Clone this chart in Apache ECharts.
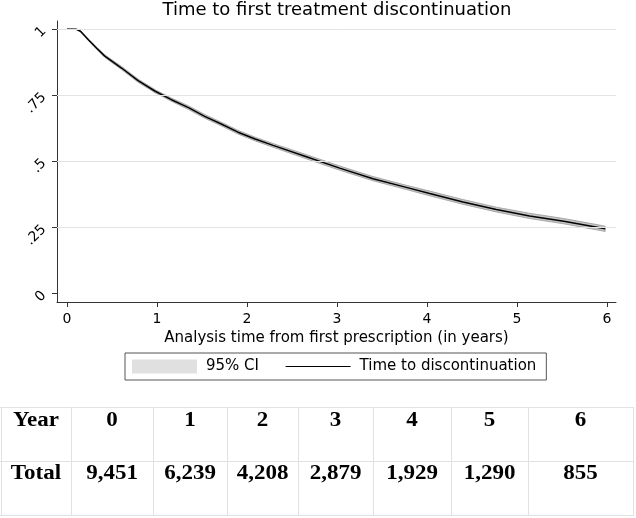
<!DOCTYPE html>
<html>
<head>
<meta charset="utf-8">
<script src="https://cdn.jsdelivr.net/npm/echarts@6/dist/echarts.min.js"></script>
<style>
html,body{margin:0;padding:0;background:#fff;}
#chart{width:636px;height:518px;}
</style>
</head>
<body>
<div id="chart"></div>
<script>
// ---- data ----
const timeYears = [0, 0.10, 0.15, 0.24, 0.33, 0.42, 0.61, 0.79, 0.98, 1.16, 1.35, 1.53, 1.72, 1.90, 2.09, 2.29, 2.66, 3.03, 3.40, 3.77, 4.03, 4.40, 4.77, 5.14, 5.52, 5.89, 5.98];
const survival  = [1, 1, 0.992, 0.959, 0.928, 0.898, 0.852, 0.805, 0.765, 0.733, 0.703, 0.670, 0.640, 0.610, 0.584, 0.560, 0.517, 0.474, 0.434, 0.401, 0.378, 0.346, 0.317, 0.293, 0.273, 0.250, 0.244];
const ciLower   = [1, 0.999, 0.990, 0.956, 0.924, 0.893, 0.846, 0.799, 0.759, 0.727, 0.696, 0.663, 0.633, 0.603, 0.577, 0.553, 0.509, 0.466, 0.426, 0.393, 0.369, 0.337, 0.308, 0.283, 0.263, 0.240, 0.234];
const ciUpper   = [1, 1, 0.994, 0.962, 0.932, 0.903, 0.858, 0.811, 0.771, 0.739, 0.710, 0.677, 0.647, 0.617, 0.591, 0.567, 0.525, 0.482, 0.442, 0.409, 0.387, 0.355, 0.326, 0.303, 0.283, 0.260, 0.254];
const xTickValues = [0, 1, 2, 3, 4, 5, 6];
const yTickValues = [0, 0.25, 0.5, 0.75, 1];
const yTickLabels = ['0', '.25', '.5', '.75', '1'];
const gridValues  = [0.25, 0.5, 0.75, 1];
const tableHeader = ['Year', 'Total'];
const tableYears  = [0, 1, 2, 3, 4, 5, 6];
const tableTotals = [9451, 6239, 4208, 2879, 1929, 1290, 855];
const titleText = 'Time to first treatment discontinuation';
const xAxisTitle = 'Analysis time from first prescription (in years)';
const ciName = '95% CI';
const lineName = 'Time to discontinuation';

// ---- layout ----
const SANS = 'DejaVu Sans';
const colEdges = [1, 71, 153, 227, 298, 373, 451, 528, 633];
const rowEdges = [407, 461, 515];
const rowCenters = [421, 474];

const chart = echarts.init(document.getElementById('chart'), null, {renderer: 'canvas'});

const tableGraphics = [];
rowEdges.forEach(y => {
  tableGraphics.push({type: 'line', silent: true, shape: {x1: 0, y1: y + 0.5, x2: 634, y2: y + 0.5},
    style: {stroke: '#e2e2e2', lineWidth: 1}});
});
colEdges.forEach(x => {
  tableGraphics.push({type: 'line', silent: true, shape: {x1: x + 0.5, y1: rowEdges[0], x2: x + 0.5, y2: rowEdges[2]},
    style: {stroke: '#e2e2e2', lineWidth: 1}});
});
const rows = [
  [tableHeader[0]].concat(tableYears.map(String)),
  [tableHeader[1]].concat(tableTotals.map(v => v.toLocaleString('en-US')))
];
rows.forEach((row, r) => {
  row.forEach((txt, c) => {
    tableGraphics.push({
      type: 'text', silent: true,
      x: (colEdges[c] + colEdges[c + 1]) / 2, y: rowCenters[r], scaleX: 1.15,
      style: {text: txt, x: 0, y: 0, align: 'center', verticalAlign: 'middle',
        font: 'bold 20px "Liberation Serif"', fill: '#000'}
    });
  });
});

const option = {
  backgroundColor: '#fff',
  animation: false,
  title: {
    text: titleText, left: 337, top: 1, textAlign: 'center', padding: 0,
    textStyle: {fontFamily: SANS, fontSize: 18, fontWeight: 'normal', color: '#000'}
  },
  legend: {
    left: 125, top: 353, padding: [6, 10, 6, 7], itemGap: 26,
    itemWidth: 65, itemHeight: 14,
    borderColor: '#555', borderWidth: 1,
    textStyle: {fontFamily: SANS, fontSize: 15, color: '#000', padding: [0, 0, 0, 4]},
    data: [
      {name: ciName, icon: 'rect', itemStyle: {color: '#e0e0e0'}},
      {name: lineName, lineStyle: {width: 1.2, color: '#000'},
        itemStyle: {color: 'rgba(0,0,0,0)', opacity: 0, borderWidth: 0}}
    ]
  },
  grid: {left: 57, top: 21, width: 559, height: 281, containLabel: false},
  xAxis: {
    type: 'value', min: -0.111, max: 6.1,
    name: xAxisTitle, nameLocation: 'middle', nameGap: 29,
    nameTextStyle: {fontFamily: SANS, fontSize: 15, color: '#000'},
    axisLine: {show: true, onZero: false, lineStyle: {color: '#333', width: 1}},
    axisTick: {show: true, length: 5, customValues: xTickValues, lineStyle: {color: '#333'}},
    axisLabel: {customValues: xTickValues, fontFamily: SANS, fontSize: 14, color: '#000', margin: 10},
    splitLine: {show: false}
  },
  yAxis: {
    type: 'value', min: -0.033, max: 1.031,
    axisLine: {show: true, onZero: false, lineStyle: {color: '#333', width: 1}},
    axisTick: {show: true, length: 5, customValues: yTickValues, lineStyle: {color: '#333'}},
    axisLabel: {
      customValues: yTickValues, rotate: 45, margin: 13,
      fontFamily: SANS, fontSize: 14, color: '#000',
      formatter: v => yTickLabels[yTickValues.indexOf(v)]
    },
    splitLine: {show: false}
  },
  series: [
    {
      name: ciName, type: 'custom', z: 2, silent: true,
      itemStyle: {color: '#e0e0e0'},
      data: [[timeYears[0], ciUpper[0]]],
      renderItem: function (params, api) {
        const pts = [];
        for (let i = 0; i < timeYears.length; i++) pts.push(api.coord([timeYears[i], ciUpper[i]]));
        for (let i = timeYears.length - 1; i >= 0; i--) pts.push(api.coord([timeYears[i], ciLower[i]]));
        return {type: 'polygon', shape: {points: pts},
          style: {fill: '#c4c4c4', stroke: '#9a9a9a', lineWidth: 0.8}};
      },
      markLine: {
        silent: true, symbol: ['none', 'none'], label: {show: false},
        lineStyle: {color: '#e3e3e3', width: 1, type: 'solid'},
        data: gridValues.map(v => ({yAxis: v}))
      }
    },
    {
      name: lineName, type: 'line', z: 3, symbol: 'none', silent: true,
      lineStyle: {color: '#000', width: 1.5},
      itemStyle: {color: '#000'},
      data: timeYears.map((t, i) => [t, survival[i]])
    }
  ],
  graphic: tableGraphics
};
chart.setOption(option);
</script>
</body>
</html>
